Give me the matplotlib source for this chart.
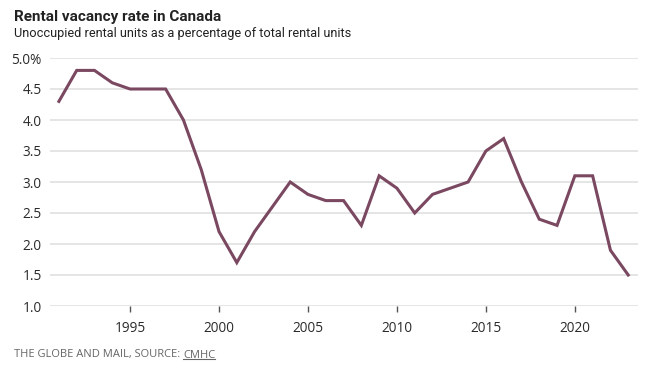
import matplotlib
matplotlib.use("Agg")
import matplotlib.pyplot as plt

plt.rcParams['font.family'] = ['Open Sans', 'DejaVu Sans']

years = list(range(1991, 2024))
vacancy = [4.3, 4.8, 4.8, 4.6, 4.5, 4.5, 4.5, 4.0, 3.2, 2.2,
           1.7, 2.2, 2.6, 3.0, 2.8, 2.7, 2.7, 2.3, 3.1, 2.9,
           2.5, 2.8, 2.9, 3.0, 3.5, 3.7, 3.0, 2.4, 2.3, 3.1,
           3.1, 1.9, 1.5]
ytick_vals = [1.0, 1.5, 2.0, 2.5, 3.0, 3.5, 4.0, 4.5, 5.0]
ytick_labels = ['1.0', '1.5', '2.0', '2.5', '3.0', '3.5', '4.0', '4.5', '5.0%']
xtick_vals = [1995, 2000, 2005, 2010, 2015, 2020]

fig = plt.figure(figsize=(6.5, 3.68), dpi=100)
ax = fig.add_axes([50 / 650, 1 - 306 / 368, 588 / 650, 248 / 368])

ax.plot(years, vacancy, color='#7a4860', linewidth=2.2, solid_joinstyle='miter', zorder=3)

ax.set_xlim(1990.5, 2023.55)
ax.set_ylim(1.0, 5.0)
ax.set_yticks(ytick_vals)
ax.set_yticklabels(ytick_labels)
ax.set_xticks(xtick_vals)
ax.grid(axis='y', color='#e3e3e3', linewidth=1.3)
ax.set_axisbelow(True)
for s in ax.spines.values():
    s.set_visible(False)
ax.tick_params(axis='y', length=0, pad=6, labelsize=9.8, labelcolor='#2a2a2a')
ax.tick_params(axis='x', length=4, width=1, color='#555555', pad=7,
               labelsize=9.8, labelcolor='#2a2a2a', direction='out')

fig.text(14 / 650, 1 - 17 / 368, 'Rental vacancy rate in Canada', fontsize=11,
         fontweight='bold', color='#222222', va='center', ha='left', family='Roboto')
fig.text(14 / 650, 1 - 34 / 368, 'Unoccupied rental units as a percentage of total rental units',
         fontsize=9.2, color='#222222', va='center', ha='left', family='Roboto')
foot = fig.text(14 / 650, 1 - 355 / 368, 'THE GLOBE AND MAIL, SOURCE: ', fontsize=8,
                color='#666666', va='center', ha='left')
fig.canvas.draw()
bb = foot.get_window_extent()
x_end = bb.x1 / fig.bbox.width
cm = fig.text(x_end, 1 - 355 / 368, 'CMHC', fontsize=8, color='#666666', va='center', ha='left')
fig.canvas.draw()
cb = cm.get_window_extent()
# underline CMHC like a link
fig.add_artist(plt.Line2D([cb.x0 / 650, cb.x1 / 650], [(cb.y0 + 2) / 368, (cb.y0 + 2) / 368],
                          color='#666666', linewidth=0.8))

fig.savefig('out.png', dpi=100, facecolor='white')
